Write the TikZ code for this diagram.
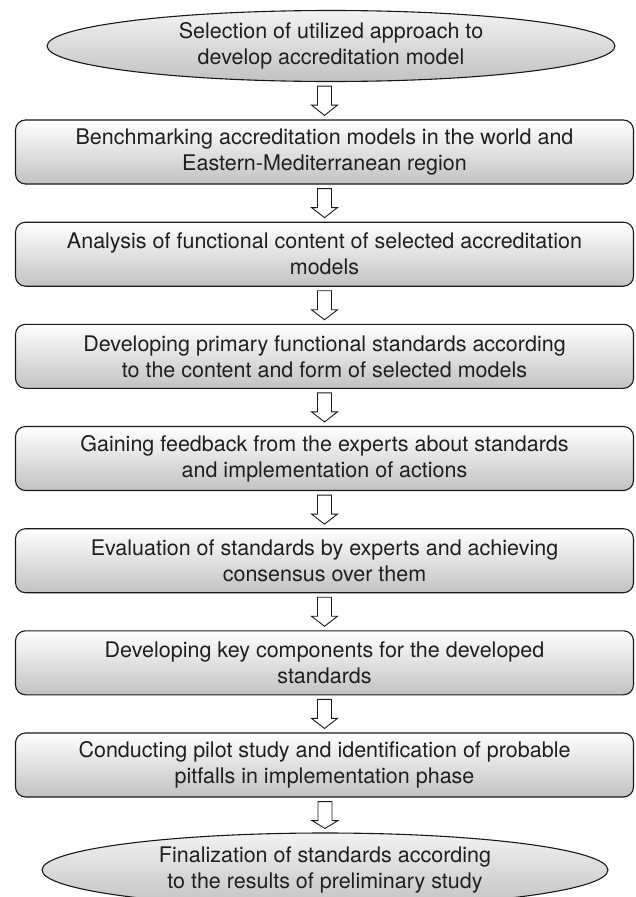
\documentclass[tikz,border=0pt]{standalone}
\usepackage{fontspec}
\setmainfont{TeX Gyre Heros}
\usetikzlibrary{shapes.geometric,calc}
\tikzset{
  stepbox/.style={draw=black!90, line width=1.1pt, rounded corners=10pt,
    top color=white, bottom color=black!24, minimum width=618pt,
    minimum height=64pt, inner sep=0pt, align=center, text=black!88,
    font=\fontsize{21.5}{26}\selectfont},
  termnode/.style={ellipse, draw=black!90, line width=1.1pt,
    top color=black!5, bottom color=black!24, inner sep=0pt,
    minimum height=71pt, align=center, text=black!88,
    font=\fontsize{21.5}{26}\selectfont},
  blockarrow/.style={draw=black!90, line width=0.9pt, fill=white}
}
\newcommand{\downarrowblock}[2]{%
  \coordinate (tipy) at ($(#2.north)+(0,-4)$);
  \coordinate (topy) at ($(#1.south)+(0,4)$);
  \coordinate (tmp) at ($(topy -| tipy)+(-7,0)$);
  \draw[blockarrow] (tmp) -- ++(14,0) -- ++(0,19) -- ++(6,0)
     -- (tipy) -- ($(tmp)+(-6,19)$) -- ($(tmp)+(0,19)$) -- cycle;}
\begin{document}
\begin{tikzpicture}[x=1pt,y=-1pt]
\useasboundingbox (0,0) rectangle (635,897);
\node[termnode, minimum width=568pt] (e0) at (331,46) {Selection of utilized approach to\\develop accreditation model};
\node[stepbox] (b1) at (324.5,152.0) {Benchmarking accreditation models in the world and\\Eastern-Mediterranean region};
\node[stepbox] (b2) at (324.5,254.2) {Analysis of functional content of selected accreditation\\models};
\node[stepbox] (b3) at (324.5,356.3) {Developing primary functional standards according\\to the content and form of selected models};
\node[stepbox] (b4) at (324.5,458.5) {Gaining feedback from the experts about standards\\and implementation of actions};
\node[stepbox] (b5) at (324.5,560.7) {Evaluation of standards by experts and achieving\\consensus over them};
\node[stepbox] (b6) at (324.5,662.8) {Developing key components for the developed\\standards};
\node[stepbox] (b7) at (324.5,765.0) {Conducting pilot study and identification of probable\\pitfalls in implementation phase};
\node[termnode, minimum width=566pt, minimum height=74pt] (e1) at (325,870) {Finalization of standards according\\to the results of preliminary study};
\downarrowblock{e0}{b1}
\downarrowblock{b1}{b2}
\downarrowblock{b2}{b3}
\downarrowblock{b3}{b4}
\downarrowblock{b4}{b5}
\downarrowblock{b5}{b6}
\downarrowblock{b6}{b7}
\downarrowblock{b7}{e1}
\end{tikzpicture}
\end{document}
